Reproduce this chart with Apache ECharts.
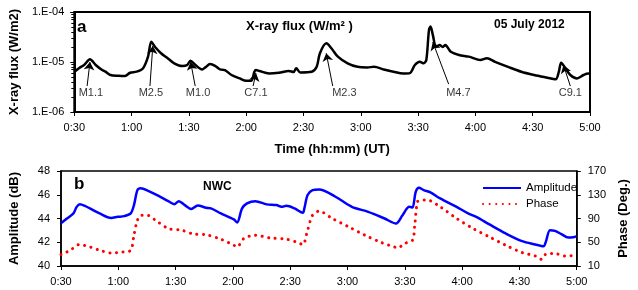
<!DOCTYPE html>
<html><head><meta charset="utf-8">
<script src="https://cdn.jsdelivr.net/npm/echarts@6/dist/echarts.min.js"></script>
<style>html,body{margin:0;padding:0;background:#fff}#c{width:638px;height:290px}</style>
</head><body><div id="c"></div>
<script>
// ---- Data (time in minutes after 00:00 UT) ----
const fluxTime = [30,32.6,35.1,38.2,41.2,44.6,46.3,48.9,53.1,56.6,59.2,62.6,66.0,68.6,70.3,72.3,75.4,78.9,82.3,86.6,89.1,90.8,93.4,96.9,98.6,101.1,103.7,106.3,108.8,112.3,116.6,120,122.6,124.3,125.1,126.9,132,137.1,142.3,144.8,146.2,148.3,154.3,156.9,158.6,162,164.6,168,173.1,178.3,183.4,186.9,192,197.1,202.3,205.7,208.3,210.9,212.9,214.3,215.7,216.5,217.7,219.4,221.2,222.9,224.3,225.4,227.1,231.4,236.6,242.6,246,250.3,257.1,264,270.8,277.7,282,283.7,284.9,287.1,289.7,293.2,296.6,299.1,300];
const fluxValue = [6.3e-6,7.6e-6,8.7e-6,1.13e-5,8.7e-6,6.9e-6,6.4e-6,5.5e-6,5.3e-6,5.25e-6,6.1e-6,6.4e-6,7.5e-6,1.28e-5,2.55e-5,2.0e-5,1.5e-5,1.19e-5,9.4e-6,8.3e-6,8.7e-6,1.06e-5,8.7e-6,7.1e-6,7.8e-6,9.1e-6,8.4e-6,7.1e-6,6.9e-6,5.5e-6,4.7e-6,4.2e-6,4.2e-6,6.4e-6,6.9e-6,6.6e-6,5.9e-6,6.1e-6,6.6e-6,6.3e-6,7.5e-6,6.2e-6,6.4e-6,8.0e-6,1.5e-5,2.37e-5,1.88e-5,1.28e-5,9.4e-6,8.0e-6,7.8e-6,8.0e-6,7.1e-6,6.4e-6,5.9e-6,6.0e-6,8.7e-6,1.01e-5,9.4e-6,1.1e-5,4.4e-5,5.1e-5,3.5e-5,2.0e-5,2.2e-5,2.0e-5,2.2e-5,1.97e-5,1.6e-5,1.38e-5,1.28e-5,1.1e-5,1.19e-5,1.01e-5,8.0e-6,6.4e-6,5.5e-6,4.85e-6,4.5e-6,6.4e-6,9.7e-6,7.5e-6,5.5e-6,4.7e-6,5.5e-6,5.9e-6,5.8e-6];

const flareNames   = ['M1.1','M2.5','M1.0','C7.1','M2.3','M4.7','C9.1'];
const flareLabelT  = [38.7,70.1,94.8,125.1,171.4,231.1,289.7];
const flareArrowFromT = [36.7,69.6,93.3,123.6,165.3,226,289.7];
const flareArrowFromF = [3.3e-6,3.3e-6,3.3e-6,3.3e-6,3.3e-6,3.6e-6,3.3e-6];
const flareTipT    = [38.2,71.1,90.9,125.1,161.9,217.7,286.1];
const flareTipF    = [1.0e-5,2.1e-5,1.0e-5,6.0e-6,1.5e-5,2.5e-5,8.7e-6];
const flareLabelF  = 2.4e-6;

const ampTime  = [30,33.1,36.5,38.2,39.9,42.5,45.1,50.2,56.2,59.7,63.1,66.5,68.2,70,71.7,75.9,81.1,86.2,89.3,91.7,94.8,98.2,101.6,106,108.5,113.7,120.5,122.2,124.8,127.4,131.7,137.7,142.8,145.4,148,152.3,156.6,157.4,159.1,161.7,165.1,173.7,182.3,190.8,199.4,205.4,208.8,212.3,214,215.7,217.4,219.9,223.4,228.5,237.1,243.1,247.4,254.3,262.8,271.4,278.3,282.6,283.8,286,288.6,292,295.5,298.9,300];
const ampValue = [43.6,44.0,44.43,44.98,45.21,45.07,44.85,44.43,44.05,44.14,44.2,44.43,45.13,46.39,46.54,46.31,45.91,45.46,45.21,45.46,45.13,44.81,45.1,44.9,44.85,44.43,43.92,43.66,44.85,45.27,45.46,45.19,45.13,44.98,45.07,44.85,44.48,44.85,45.97,46.39,46.45,45.83,44.98,44.56,44.0,43.58,44.28,44.98,44.93,46.25,46.59,46.39,46.2,45.69,44.98,44.43,44.14,43.5,42.74,42.09,41.81,41.66,42.03,43.02,42.96,42.68,42.4,42.45,42.51];

const phaseTime  = [30,34.8,39.6,45.1,50.2,56.2,62.2,66.5,68.2,70,72.2,75.1,79.4,86.2,93.1,100,105.1,113.7,120.5,122.2,125.7,131.7,139.4,148,154,156.6,159.1,161.7,165.1,172,180.6,189.1,197.7,204.5,206.3,209.7,214,215.2,216.6,218.3,221.7,228.5,237.1,245.7,254.3,262.8,271.4,278.3,281.4,284.3,288.6,293.7,300];
const phaseValue = [29,36.5,46.1,42.1,36.5,32,33.6,36.5,61.9,87.2,95.6,95.6,87.2,73.2,70.3,63.5,63,55.1,45,42.1,56.3,61.9,57.3,55.1,49.5,46.1,70.3,95.6,102.4,90.1,75.9,61.9,49.5,42.1,40.4,47.8,53.4,78.7,118.1,121,121,109.7,90.1,73.2,59,45,32.6,26.9,21.3,30.9,30.9,26.9,28.1];

const xTicks = [30,60,90,120,150,180,210,240,270,300];
const fluxTicks = ['1.E-06','1.E-05','1.E-04'];
const ampTicks = [40,42,44,46,48];
const phaseTicks = [10,50,90,130,170];

// ---- Chart ----
const FONT = 'Liberation Sans';
const fmtTime = m => Math.floor(m/60) + ':' + String(Math.round(m%60)).padStart(2,'0');
const zip = (a,b) => a.map((v,i)=>[v,b[i]]);
const chart = echarts.init(document.getElementById('c'), null, {renderer:'canvas'});

const arrowData = flareNames.map((n,i)=>[
  {coord:[flareArrowFromT[i], flareArrowFromF[i]]},
  {coord:[flareTipT[i], flareTipF[i]]}
]);

const axisLbl = {color:'#000', fontFamily:FONT, fontSize:11};
chart.setOption({
  animation:false,
  textStyle:{fontFamily:FONT},
  grid:[
    {left:65, top:12, width:525, height:100, show:true, borderColor:'#000', borderWidth:2, backgroundColor:'transparent'},
    {left:59, top:171, width:525, height:95, show:true, borderColor:'#000', borderWidth:1.5, backgroundColor:'transparent'}
  ],
  xAxis:[
    {gridIndex:0, type:'value', min:xTicks[0], max:xTicks[xTicks.length-1], interval:30,
     axisLine:{lineStyle:{color:'#000', width:2}}, axisTick:{show:true, length:4, lineStyle:{color:'#000'}},
     splitLine:{show:false}, axisLabel:Object.assign({margin:10, formatter:fmtTime}, axisLbl),
     name:'Time (hh:mm) (UT)', nameLocation:'middle', nameGap:31,
     nameTextStyle:{color:'#000', fontWeight:'bold', fontSize:13, fontFamily:FONT}},
    {gridIndex:1, type:'value', min:xTicks[0], max:xTicks[xTicks.length-1], interval:30,
     axisLine:{lineStyle:{color:'#000', width:1.5}}, axisTick:{show:true, length:4, lineStyle:{color:'#000'}},
     splitLine:{show:false}, axisLabel:Object.assign({margin:10, formatter:fmtTime}, axisLbl)}
  ],
  yAxis:[
    {gridIndex:0, type:'log', min:1e-6, max:1e-4, logBase:10,
     axisLine:{show:true, lineStyle:{color:'#000', width:2}},
     axisTick:{show:true, length:4, lineStyle:{color:'#000'}},
     minorTick:{show:true, splitNumber:9, length:3, lineStyle:{color:'#000'}},
     splitLine:{show:false},
     axisLabel:Object.assign({margin:10, formatter:(v)=>fluxTicks[Math.round(Math.log10(v))+6]}, axisLbl),
     name:'X-ray flux (W/m2)', nameLocation:'middle', nameGap:51,
     nameTextStyle:{color:'#000', fontWeight:'bold', fontSize:13, fontFamily:FONT}},
    {gridIndex:1, type:'value', min:ampTicks[0], max:ampTicks[ampTicks.length-1], interval:2,
     axisLine:{show:true, lineStyle:{color:'#000', width:1.5}},
     axisTick:{show:true, length:4, lineStyle:{color:'#000'}}, splitLine:{show:false},
     axisLabel:Object.assign({margin:11}, axisLbl),
     name:'Amplitude (dB)', nameLocation:'middle', nameGap:40,
     nameTextStyle:{color:'#000', fontWeight:'bold', fontSize:13, fontFamily:FONT}},
    {gridIndex:1, type:'value', position:'right', min:phaseTicks[0], max:phaseTicks[phaseTicks.length-1], interval:40,
     axisLine:{show:true, lineStyle:{color:'#000', width:1.5}},
     axisTick:{show:true, length:4, lineStyle:{color:'#000'}}, splitLine:{show:false},
     axisLabel:Object.assign({margin:11}, axisLbl),
     name:'Phase (Deg.)', nameLocation:'middle', nameGap:40, nameRotate:90,
     nameTextStyle:{color:'#000', fontWeight:'bold', fontSize:13, fontFamily:FONT}}
  ],
  legend:{
    left:477, top:177, orient:'vertical', itemWidth:38, itemHeight:10, itemGap:4,
    itemStyle:{opacity:0},
    textStyle:{color:'#000', fontSize:11.5, fontFamily:FONT},
    data:['Amplitude','Phase']
  },
  graphic:[
    {type:'text', left:77, top:19, style:{text:'a', font:'bold 17px "Liberation Sans"', fill:'#000'}},
    {type:'text', left:246, top:20, style:{text:'X-ray flux (W/m² )', font:'bold 13px "Liberation Sans"', fill:'#000'}},
    {type:'text', left:494, top:19, style:{text:'05 July 2012', font:'bold 12px "Liberation Sans"', fill:'#000'}},
    {type:'text', left:74, top:176, style:{text:'b', font:'bold 17px "Liberation Sans"', fill:'#000'}},
    {type:'text', left:203, top:181, style:{text:'NWC', font:'bold 12px "Liberation Sans"', fill:'#000'}}
  ],
  series:[
    {type:'line', name:'X-ray', xAxisIndex:0, yAxisIndex:0, data:zip(fluxTime, fluxValue),
     smooth:0.3, symbol:'none', lineStyle:{color:'#000', width:2.5},
     markLine:{silent:true, symbol:['none','arrow'], symbolSize:8, label:{show:false},
       lineStyle:{color:'#000', width:1, type:'solid'}, data:arrowData}},
    {type:'scatter', name:'flares', xAxisIndex:0, yAxisIndex:0, symbolSize:0,
     data:flareNames.map((n,i)=>({value:[flareLabelT[i], flareLabelF], name:n})),
     label:{show:true, position:'inside', formatter:p=>p.name, color:'#000', fontSize:11, fontFamily:FONT}},
    {type:'line', name:'Amplitude', xAxisIndex:1, yAxisIndex:1, data:zip(ampTime, ampValue),
     smooth:0.3, symbol:'none', lineStyle:{color:'#0000ff', width:2.5}, itemStyle:{color:'#0000ff'}},
    {type:'line', name:'Phase', xAxisIndex:1, yAxisIndex:2, data:zip(phaseTime, phaseValue),
     smooth:0.3, symbol:'none', lineStyle:{color:'#ff0000', width:3, type:[0.1,6.5], cap:'round'}, itemStyle:{color:'#ff0000'}}
  ]
});
</script></body></html>
